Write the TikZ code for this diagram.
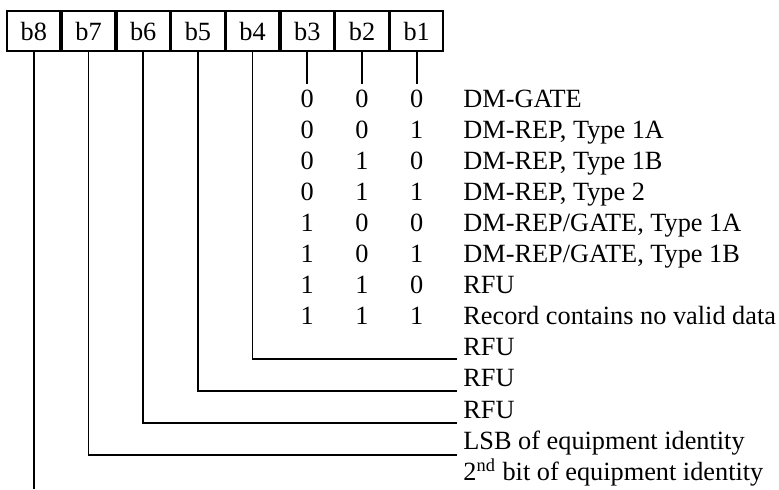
\documentclass[tikz,border=0pt]{standalone}
\usepackage{fontspec}
\setmainfont{Liberation Serif}
\usetikzlibrary{positioning}

\begin{document}
\begin{tikzpicture}[x=0.5pt,y=-0.5pt,font=\fontsize{13.15}{15}\selectfont,
  bitcell/.style={draw,line width=0.85pt,minimum width=26.5pt,minimum height=20pt,inner sep=0pt},
  wire/.style={line width=0.85pt},
  val/.style={anchor=base,inner sep=0pt},
  lbl/.style={anchor=base west,inner sep=0pt}]
\useasboundingbox (0,0) rectangle (779,489);
% the octet
\node[bitcell] (b8) at (33.8,31) {b8};
\foreach \i/\j in {7/8,6/7,5/6,4/5,3/4,2/3,1/2}
  \node[bitcell,right=0pt of b\j] (b\i) {b\i};
% coding of b3..b1
\foreach \i in {3,2,1}
  \draw[wire] (b\i.south) -- ++(0,32);
\foreach \a/\b/\c/\t [count=\r] in {0/0/0/DM-GATE, 0/0/1/{DM-REP, Type 1A},
    0/1/0/{DM-REP, Type 1B}, 0/1/1/{DM-REP, Type 2}, 1/0/0/{DM-REP/GATE, Type 1A},
    1/0/1/{DM-REP/GATE, Type 1B}, 1/1/0/RFU, 1/1/1/Record contains no valid data}
  {\path (b3 |- 0,{107+31.1*(\r-1)}) node[val] (x\r a) {\a};
   \path (b2 |- 0,{107+31.1*(\r-1)}) node[val] (x\r b) {\b};
   \path (b1 |- 0,{107+31.1*(\r-1)}) node[val] (x\r c) {\c};
   \node[lbl] (l\r) at (463,{107+31.1*(\r-1)}) {\t};}
% single bits
\node[lbl] (l9) at (463,355.8) {RFU};
\node[lbl] (l10) at (463,386.9) {RFU};
\node[lbl] (l11) at (463,418) {RFU};
\node[lbl] (l12) at (463,449.1) {LSB of equipment identity};
\node[lbl] (l13) at (463,480.2) {2\textsuperscript{nd} bit of equipment identity};
\foreach \i/\y in {4/359,5/391,6/423,7/455}
  {\coordinate (e\i) at (457,\y);
   \draw[wire] (b\i.south) |- (e\i);}
\coordinate (e8) at (b8 |- 0,489);
\draw[wire] (b8.south) -- (e8);
\end{tikzpicture}
\end{document}
